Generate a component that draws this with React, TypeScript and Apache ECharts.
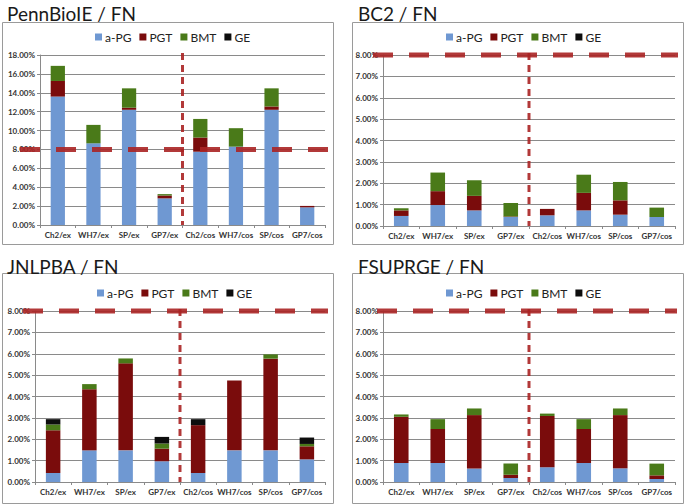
import React, { useEffect, useRef } from 'react';
import * as echarts from 'echarts';

const categories = ['Ch2/ex', 'WH7/ex', 'SP/ex', 'GP7/ex', 'Ch2/cos', 'WH7/cos', 'SP/cos', 'GP7/cos'];
const seriesNames = ['a-PG', 'PGT', 'BMT', 'GE'];
const seriesColors = ['#6f98d2', '#7a0c0c', '#4a7a19', '#0d0d0d'];
const panelTitles = ['PennBioIE / FN', 'BC2 / FN', 'JNLPBA / FN', 'FSUPRGE / FN'];
const yMaxes = [18, 8, 8, 8];
const yIntervals = [2, 1, 1, 1];
const thresholdValue = 8;

// PennBioIE
const pennAPG = [13.6, 8.65, 12.2, 2.82, 7.76, 8.3, 12.2, 1.87];
const pennPGT = [1.65, 0, 0.22, 0.3, 1.5, 0, 0.35, 0.15];
const pennBMT = [1.6, 1.95, 2.05, 0.15, 1.97, 1.95, 1.92, 0];
const pennGE = [0, 0, 0, 0, 0, 0, 0, 0];

// BC2
const bc2APG = [0.47, 0.98, 0.73, 0.42, 0.5, 0.73, 0.53, 0.42];
const bc2PGT = [0.26, 0.65, 0.68, 0.02, 0.3, 0.82, 0.67, 0];
const bc2BMT = [0.1, 0.87, 0.73, 0.64, 0, 0.85, 0.86, 0.44];
const bc2GE = [0, 0, 0, 0, 0, 0, 0, 0];

// JNLPBA
const jnlAPG = [0.42, 1.48, 1.48, 0.97, 0.42, 1.48, 1.48, 1.06];
const jnlPGT = [2.0, 2.86, 4.07, 0.59, 2.24, 3.27, 4.29, 0.61];
const jnlBMT = [0.27, 0.24, 0.23, 0.24, 0, 0, 0.2, 0.11];
const jnlGE = [0.25, 0, 0, 0.31, 0.28, 0, 0, 0.3];

// FSUPRGE
const fsuAPG = [0.89, 0.89, 0.63, 0.19, 0.69, 0.89, 0.64, 0.14];
const fsuPGT = [2.16, 1.59, 2.5, 0.15, 2.4, 1.59, 2.49, 0.17];
const fsuBMT = [0.11, 0.46, 0.31, 0.52, 0.11, 0.46, 0.31, 0.55];
const fsuGE = [0, 0, 0, 0, 0, 0, 0, 0];

const panelData = [
  [pennAPG, pennPGT, pennBMT, pennGE],
  [bc2APG, bc2PGT, bc2BMT, bc2GE],
  [jnlAPG, jnlPGT, jnlBMT, jnlGE],
  [fsuAPG, fsuPGT, fsuBMT, fsuGE],
];

// layout
const grids = [
  { left: 40, top: 55, width: 285, height: 170 },
  { left: 383, top: 55, width: 292, height: 171 },
  { left: 35, top: 311, width: 290, height: 171 },
  { left: 383, top: 311, width: 292, height: 171 },
];
const boxes = [
  { x: 2, y: 22, w: 331, h: 222 },
  { x: 352, y: 22, w: 331, h: 222 },
  { x: 2, y: 273, w: 331, h: 230 },
  { x: 352, y: 273, w: 331, h: 230 },
];
const titlePos = [
  { x: 7, y: 13 },
  { x: 358, y: 13 },
  { x: 7, y: 266 },
  { x: 358, y: 266 },
];
const legendPos = [
  { x: 95, y: 31 },
  { x: 446, y: 31 },
  { x: 97, y: 287 },
  { x: 446, y: 287 },
];
const hLineExt = [
  { l: 20, r: 5 },
  { l: 10, r: 3 },
  { l: 12, r: 3 },
  { l: 6, r: 2 },
];

const font = 'Lato';
const dashColor = 'rgba(170, 35, 35, 0.9)';

export default function App() {
  const ref = useRef<HTMLDivElement>(null);
  useEffect(() => {
    if (!ref.current) return;
    const chart = echarts.init(ref.current, null, { renderer: 'svg' });
    const series: any[] = [];
    panelData.forEach((pd, gi) => {
      pd.forEach((vals, si) => {
        series.push({
          type: 'bar',
          name: seriesNames[si],
          stack: 'p' + gi,
          xAxisIndex: gi,
          yAxisIndex: gi,
          barWidth: '40%',
          itemStyle: { color: seriesColors[si] },
          data: vals,
        });
      });
    });
    const option: any = {
      animation: false,
      backgroundColor: '#ffffff',
      grid: grids.map((g) => ({ ...g, containLabel: false })),
      legend: legendPos.map((p) => ({
        left: p.x,
        top: p.y,
        data: seriesNames,
        icon: 'rect',
        itemWidth: 7,
        itemHeight: 7,
        itemGap: 8,
        selectedMode: false,
        textStyle: { fontFamily: font, fontSize: 12, color: '#222', padding: [0, 0, 0, -2] },
        padding: 0,
      })),
      xAxis: grids.map((_, gi) => ({
        type: 'category',
        gridIndex: gi,
        data: categories,
        axisLine: { lineStyle: { color: '#8a8a8a', width: 1 } },
        axisTick: { show: true, length: 3, lineStyle: { color: '#8a8a8a' } },
        axisLabel: { fontFamily: font, fontSize: 8, fontWeight: 'bold', color: '#333', margin: 6, interval: 0 },
      })),
      yAxis: grids.map((_, gi) => ({
        type: 'value',
        gridIndex: gi,
        min: 0,
        max: yMaxes[gi],
        interval: yIntervals[gi],
        axisLine: { show: true, lineStyle: { color: '#8a8a8a', width: 1 } },
        axisTick: { show: true, length: 3, lineStyle: { color: '#8a8a8a' } },
        splitLine: { show: true, lineStyle: { color: '#8a8a8a', width: 1 } },
        axisLabel: {
          fontFamily: font,
          fontSize: 8,
          fontWeight: 'bold',
          color: '#333',
          margin: 5,
          formatter: (v: number) => v.toFixed(2) + '%',
        },
      })),
      series,
    };
    chart.setOption(option);

    const graphics: any[] = [];
    boxes.forEach((b) => {
      graphics.push({
        type: 'rect',
        shape: { x: b.x + 0.5, y: b.y + 0.5, width: b.w, height: b.h },
        style: { fill: 'none', stroke: '#9a9a9a', lineWidth: 1 },
        silent: true,
        z: 0,
      });
    });
    titlePos.forEach((p, i) => {
      graphics.push({
        type: 'text',
        x: p.x,
        y: p.y,
        style: {
          text: panelTitles[i],
          fontFamily: font,
          fontSize: 19,
          fill: '#1a1a1a',
          textVerticalAlign: 'middle',
        },
        z: 10,
      });
    });
    grids.forEach((g, gi) => {
      const yT = chart.convertToPixel({ yAxisIndex: gi } as any, thresholdValue) as number;
      const yTop = chart.convertToPixel({ yAxisIndex: gi } as any, yMaxes[gi]) as number;
      const y0 = chart.convertToPixel({ yAxisIndex: gi } as any, 0) as number;
      const xa = chart.convertToPixel({ xAxisIndex: gi } as any, categories[3]) as number;
      const xb = chart.convertToPixel({ xAxisIndex: gi } as any, categories[4]) as number;
      const xm = (xa + xb) / 2;
      graphics.push({
        type: 'line',
        shape: { x1: xm, y1: yTop - 2, x2: xm, y2: y0 },
        style: { stroke: dashColor, lineWidth: 3, lineDash: [7, 5] },
        z: 20,
        silent: true,
      });
      graphics.push({
        type: 'line',
        shape: { x1: g.left - hLineExt[gi].l, y1: yT, x2: g.left + g.width + hLineExt[gi].r, y2: yT },
        style: { stroke: dashColor, lineWidth: 5, lineDash: [20, 16] },
        z: 20,
        silent: true,
      });
    });
    chart.setOption({ graphic: graphics });
    return () => chart.dispose();
  }, []);
  return (
    <div
      ref={ref}
      style={{ position: 'absolute', left: 0, top: 0, width: 685, height: 504 }}
    />
  );
}
